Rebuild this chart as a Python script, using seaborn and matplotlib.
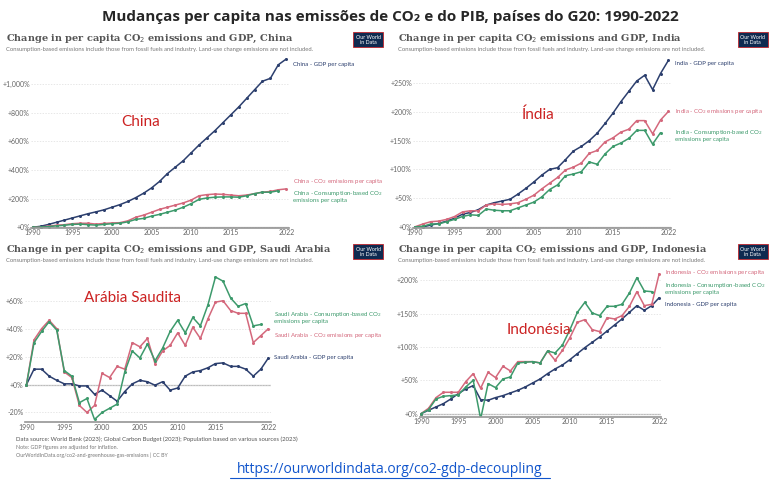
import matplotlib
matplotlib.use("Agg")
import matplotlib.pyplot as plt
import matplotlib.ticker as mticker
import seaborn as sns
import numpy as np
import pandas as pd

# Data (% change since 1990)
years = list(range(1990, 2023))
nan = np.nan

china_gdp = [0, 7, 20, 35, 50, 65, 80, 95, 108, 122, 140, 158, 180, 207, 238, 275, 320, 375, 420, 465,
             520, 575, 625, 675, 730, 785, 840, 900, 960, 1020, 1040, 1135, 1175]
china_co2 = [0, 2, 8, 14, 18, 25, 28, 28, 22, 27, 30, 32, 45, 70, 85, 105, 125, 140, 155, 170,
             190, 220, 228, 232, 230, 225, 220, 225, 235, 245, 250, 262, 268]
china_cons = [0, 1, 5, 10, 14, 20, 22, 18, 15, 20, 25, 28, 38, 55, 62, 78, 90, 105, 120, 140,
              165, 195, 205, 210, 212, 212, 210, 220, 235, 245, 245, 255, nan]

india_gdp = [0, 0, 3, 6, 10, 15, 22, 25, 30, 38, 42, 45, 48, 57, 67, 78, 90, 100, 103, 117,
             132, 140, 150, 163, 180, 198, 218, 236, 254, 264, 239, 267, 290]
india_co2 = [0, 5, 9, 10, 13, 18, 26, 28, 28, 38, 40, 39, 40, 42, 48, 55, 66, 76, 86, 99,
             104, 111, 128, 133, 148, 155, 165, 170, 185, 185, 162, 186, 201]
india_cons = [0, 1, 5, 5, 9, 13, 18, 21, 20, 31, 29, 28, 28, 33, 38, 43, 52, 65, 73, 89,
              92, 96, 113, 109, 127, 140, 146, 154, 168, 168, 144, 164, nan]

saudi_gdp = [0, 11, 11, 6, 3, 0.5, 0.5, -1, -1, -7, -4, -8, -12, -5, 0.5, 3, 2, -0.5, 2, -4,
             -2.5, 6, 9, 10, 12, 15, 15.5, 13, 13, 11, 6, 11, 19]
saudi_co2 = [0, 32, 40, 46, 40, 9, 5, -15, -20, -15, 8, 5, 13, 11, 30, 27, 33, 15, 24, 28,
             37, 28, 41, 33, 47, 59, 60, 53, 51, 51, 30, 35, 40]
saudi_cons = [0, 30, 38, 45, 39, 10, 6, -13, -10, -25, -20, -17, -14, 9, 24, 19, 29, 17, 26, 38,
              46, 37, 48, 42, 57, 77, 74, 62, 56, 58, 42, 43, nan]

indo_gdp = [0, 5, 10, 15, 22, 30, 37, 42, 21, 20, 24, 27, 31, 35, 40, 46, 52, 60, 67, 73,
            81, 90, 99, 107, 115, 124, 133, 142, 152, 162, 155, 162, 174]
indo_co2 = [0, 8, 24, 32, 32, 32, 48, 60, 38, 62, 54, 71, 64, 78, 78, 78, 76, 94, 80, 95,
            114, 137, 141, 126, 123, 144, 142, 147, 161, 183, 162, 164, 210]
indo_cons = [0, 6, 22, 26, 27, 28, 40, 50, -8, 45, 39, 52, 55, 76, 77, 78, 76, 94, 91, 103,
             126, 152, 167, 151, 147, 161, 161, 164, 181, 204, 184, 183, nan]

xticks = [1990, 1995, 2000, 2005, 2010, 2015, 2022]

COL = {"gdp": "#2c3f6e", "co2": "#d4687c", "cons": "#3d9a6c"}

sns.set_theme(style="white")
plt.rcParams['font.family'] = ['Lato', 'DejaVu Sans']

fig = plt.figure(figsize=(7.8, 4.82), dpi=100)


def panel(rect, country, label_pt, gdp, co2, cons, ylim, yticks, labels, logo_xy, title_xy, big_xy):
    ax = fig.add_axes(rect)
    df = pd.DataFrame({"year": years * 3,
                       "value": gdp + co2 + cons,
                       "series": ["gdp"] * 33 + ["co2"] * 33 + ["cons"] * 33}).dropna()
    sns.lineplot(data=df, x="year", y="value", hue="series", palette=COL, marker="o",
                 markersize=2.2, markeredgewidth=0, linewidth=1.1, legend=False, ax=ax)
    ax.set_xlim(1989.8, 2022.3)
    ax.set_ylim(*ylim)
    ax.set_yticks(yticks)
    ax.yaxis.set_major_formatter(mticker.FuncFormatter(lambda v, p: "{:+,.0f}%".format(v)))
    ax.set_xticks(xticks)
    ax.tick_params(labelsize=5, colors="#666666", length=0, pad=1)
    ax.set_xlabel("")
    ax.set_ylabel("")
    for s in ["top", "right", "left"]:
        ax.spines[s].set_visible(False)
    ax.spines["bottom"].set_color("#999999")
    ax.grid(axis="y", linestyle=(0, (2, 2)), linewidth=0.5, color="#dddddd")
    if ylim[0] < 0:
        ax.axhline(0, color="#bbbbbb", linewidth=0.9, zorder=0)
    # end labels
    for key, y, txt in labels:
        ax.text(2022.8, y, txt, fontsize=4.4, color=COL[key], va="center", clip_on=False,
                linespacing=1.0)
    ax.text(big_xy[0], big_xy[1], label_pt, transform=ax.transAxes, fontsize=11,
            color="#cc2222", va="center")
    # title block
    fig.text(title_xy[0], title_xy[1], "Change in per capita CO$_2$ emissions and GDP, " + country,
             fontsize=7, family="DejaVu Serif", color="#555555", weight="bold")
    fig.text(title_xy[0], title_xy[1] - 0.021,
             "Consumption-based emissions include those from fossil fuels and industry. Land-use change emissions are not included.",
             fontsize=4.2, color="#777777")
    fig.text(logo_xy[0], logo_xy[1], "Our World\nin Data", fontsize=3.8, color="white", ha="center",
             va="center", linespacing=1.0,
             bbox=dict(boxstyle="square,pad=0.5", facecolor="#0f2a50", edgecolor="#c0262d", linewidth=0.6))
    return ax


panel([0.04, 0.527, 0.33, 0.355], "China", "China", china_gdp, china_co2, china_cons,
      (-5, 1190), [0, 200, 400, 600, 800, 1000],
      [("gdp", 1140, "China - GDP per capita"), ("co2", 320, "China - CO$_2$ emissions per capita"),
       ("cons", 215, "China - Consumption-based CO$_2$\nemissions per capita")],
      (0.472, 0.918), (0.008, 0.915), (0.35, 0.62))

panel([0.53, 0.527, 0.33, 0.355], "India", "Índia", india_gdp, india_co2, india_cons,
      (-2, 296), [0, 50, 100, 150, 200, 250],
      [("gdp", 285, "India - GDP per capita"), ("co2", 201, "India - CO$_2$ emissions per capita"),
       ("cons", 160, "India - Consumption-based CO$_2$\nemissions per capita")],
      (0.965, 0.918), (0.51, 0.915), (0.42, 0.66))

panel([0.032, 0.124, 0.315, 0.31], "Saudi Arabia", "Arábia Saudita", saudi_gdp, saudi_co2, saudi_cons,
      (-27, 80), [-20, 0, 20, 40, 60],
      [("cons", 48, "Saudi Arabia - Consumption-based CO$_2$\nemissions per capita"),
       ("co2", 35, "Saudi Arabia - CO$_2$ emissions per capita"),
       ("gdp", 19, "Saudi Arabia - GDP per capita")],
      (0.472, 0.478), (0.008, 0.478), (0.24, 0.83))

panel([0.538, 0.135, 0.31, 0.3], "Indonesia", "Indonésia",
      indo_gdp, indo_co2, indo_cons,
      (-5, 212), [0, 50, 100, 150, 200],
      [("co2", 212, "Indonesia - CO$_2$ emissions per capita"),
       ("cons", 188, "Indonesia - Consumption-based CO$_2$\nemissions per capita"),
       ("gdp", 164, "Indonesia - GDP per capita")],
      (0.965, 0.478), (0.51, 0.478), (0.36, 0.6))

# source notes
fig.text(0.02, 0.085, "Data source: World Bank (2023); Global Carbon Budget (2023); Population based on various sources (2023)",
         fontsize=4.3, color="#555555")
fig.text(0.02, 0.068, "Note: GDP figures are adjusted for inflation.", fontsize=3.8, color="#777777")
fig.text(0.02, 0.052, "OurWorldInData.org/co2-and-greenhouse-gas-emissions | CC BY", fontsize=3.8, color="#777777")

fig.text(0.5, 0.965, "Mudanças per capita nas emissões de CO₂ e do PIB, países do G20: 1990-2022",
         fontsize=11, weight="bold", ha="center", va="center", family=["Open Sans", "DejaVu Sans"])
fig.text(0.5, 0.025, "https://ourworldindata.org/co2-gdp-decoupling", fontsize=10, color="#1155cc",
         ha="center", va="center", family=["Open Sans", "DejaVu Sans"])
fig.add_artist(plt.Line2D([0.295, 0.705], [0.008, 0.008], color="#1155cc", linewidth=0.8))

fig.savefig("out.png", dpi=100)
